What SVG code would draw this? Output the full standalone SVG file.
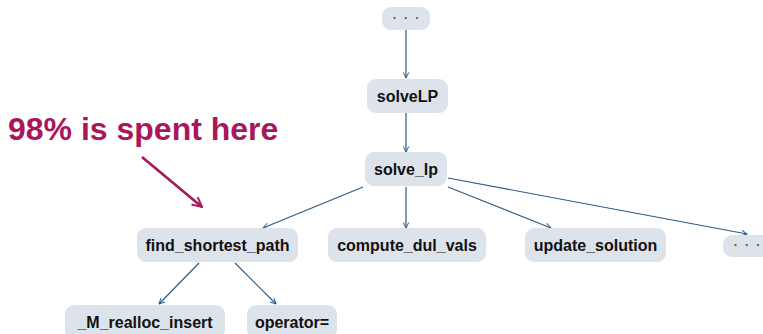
<svg xmlns="http://www.w3.org/2000/svg" width="763" height="334" viewBox="0 0 763 334">
  <defs>
    <marker id="arr" viewBox="0 0 10 10" refX="9" refY="5" markerWidth="7" markerHeight="7" markerUnits="userSpaceOnUse" orient="auto">
      <path d="M1,1 L9,5 L1,9" fill="none" stroke="#2f5b86" stroke-width="1.4"/>
    </marker>
    <marker id="hot" viewBox="0 0 10 10" refX="9" refY="5" markerWidth="12" markerHeight="12" markerUnits="userSpaceOnUse" orient="auto">
      <path d="M1,1 L9,5 L1,9" fill="none" stroke="#a8175a" stroke-width="1.6"/>
    </marker>
    <style>
      .box { fill: #dde3ea; }
      .lbl { font-family: "Liberation Sans", Arial, sans-serif; font-weight: bold; font-size: 16px; fill: #111; text-anchor: middle; }
      .dots { font-family: "Liberation Sans", Arial, sans-serif; font-weight: bold; font-size: 12px; fill: #555; text-anchor: middle; letter-spacing: 2px; }
      .edge { fill: none; stroke: #2f5b86; stroke-width: 1.2; marker-end: url(#arr); }
      .note { font-family: "Liberation Sans", Arial, sans-serif; font-weight: bold; font-size: 32px; fill: #a8175a; }
    </style>
  </defs>

  <g id="connectors">
    <line class="edge" x1="406" y1="30" x2="406" y2="78"/>
    <line class="edge" x1="406" y1="113" x2="406" y2="152"/>
    <line class="edge" x1="363" y1="187" x2="263" y2="228"/>
    <line class="edge" x1="406" y1="187" x2="406" y2="228"/>
    <line class="edge" x1="448" y1="187" x2="551" y2="228"/>
    <line class="edge" x1="448" y1="178" x2="747" y2="234"/>
    <line class="edge" x1="199" y1="263" x2="159" y2="304"/>
    <line class="edge" x1="235" y1="263" x2="276" y2="304"/>
  </g>

  <g id="node-top-more">
    <rect class="box" x="382" y="7" width="48" height="23" rx="9"/>
    <text class="dots" x="407" y="22">· · ·</text>
  </g>
  <g id="node-solveLP">
    <rect class="box" x="367" y="79" width="81" height="34" rx="9"/>
    <text class="lbl" x="407.5" y="102">solveLP</text>
  </g>
  <g id="node-solve_lp">
    <rect class="box" x="365" y="152" width="82" height="34" rx="9"/>
    <text class="lbl" x="406" y="175">solve_lp</text>
  </g>
  <g id="node-find_shortest_path">
    <rect class="box" x="137" y="228" width="161" height="34" rx="9"/>
    <text class="lbl" x="217.5" y="251">find_shortest_path</text>
  </g>
  <g id="node-compute_dul_vals">
    <rect class="box" x="328" y="228" width="158" height="34" rx="9"/>
    <text class="lbl" x="407" y="251">compute_dul_vals</text>
  </g>
  <g id="node-update_solution">
    <rect class="box" x="525" y="228" width="141" height="34" rx="9"/>
    <text class="lbl" x="595.5" y="251">update_solution</text>
  </g>
  <g id="node-side-more">
    <rect class="box" x="723" y="235" width="52" height="22" rx="9"/>
    <text class="dots" x="748" y="249">· · ·</text>
  </g>
  <g id="node-_M_realloc_insert">
    <rect class="box" x="65" y="305" width="160" height="34" rx="9"/>
    <text class="lbl" x="145" y="328">_M_realloc_insert</text>
  </g>
  <g id="node-operator-assign">
    <rect class="box" x="247" y="305" width="90" height="34" rx="9"/>
    <text class="lbl" x="292" y="328">operator=</text>
  </g>

  <g id="annotation">
    <text class="note" x="8" y="140">98% is spent here</text>
    <line x1="142" y1="157" x2="202" y2="207" stroke="#a8175a" stroke-width="2.6" marker-end="url(#hot)"/>
  </g>
</svg>
